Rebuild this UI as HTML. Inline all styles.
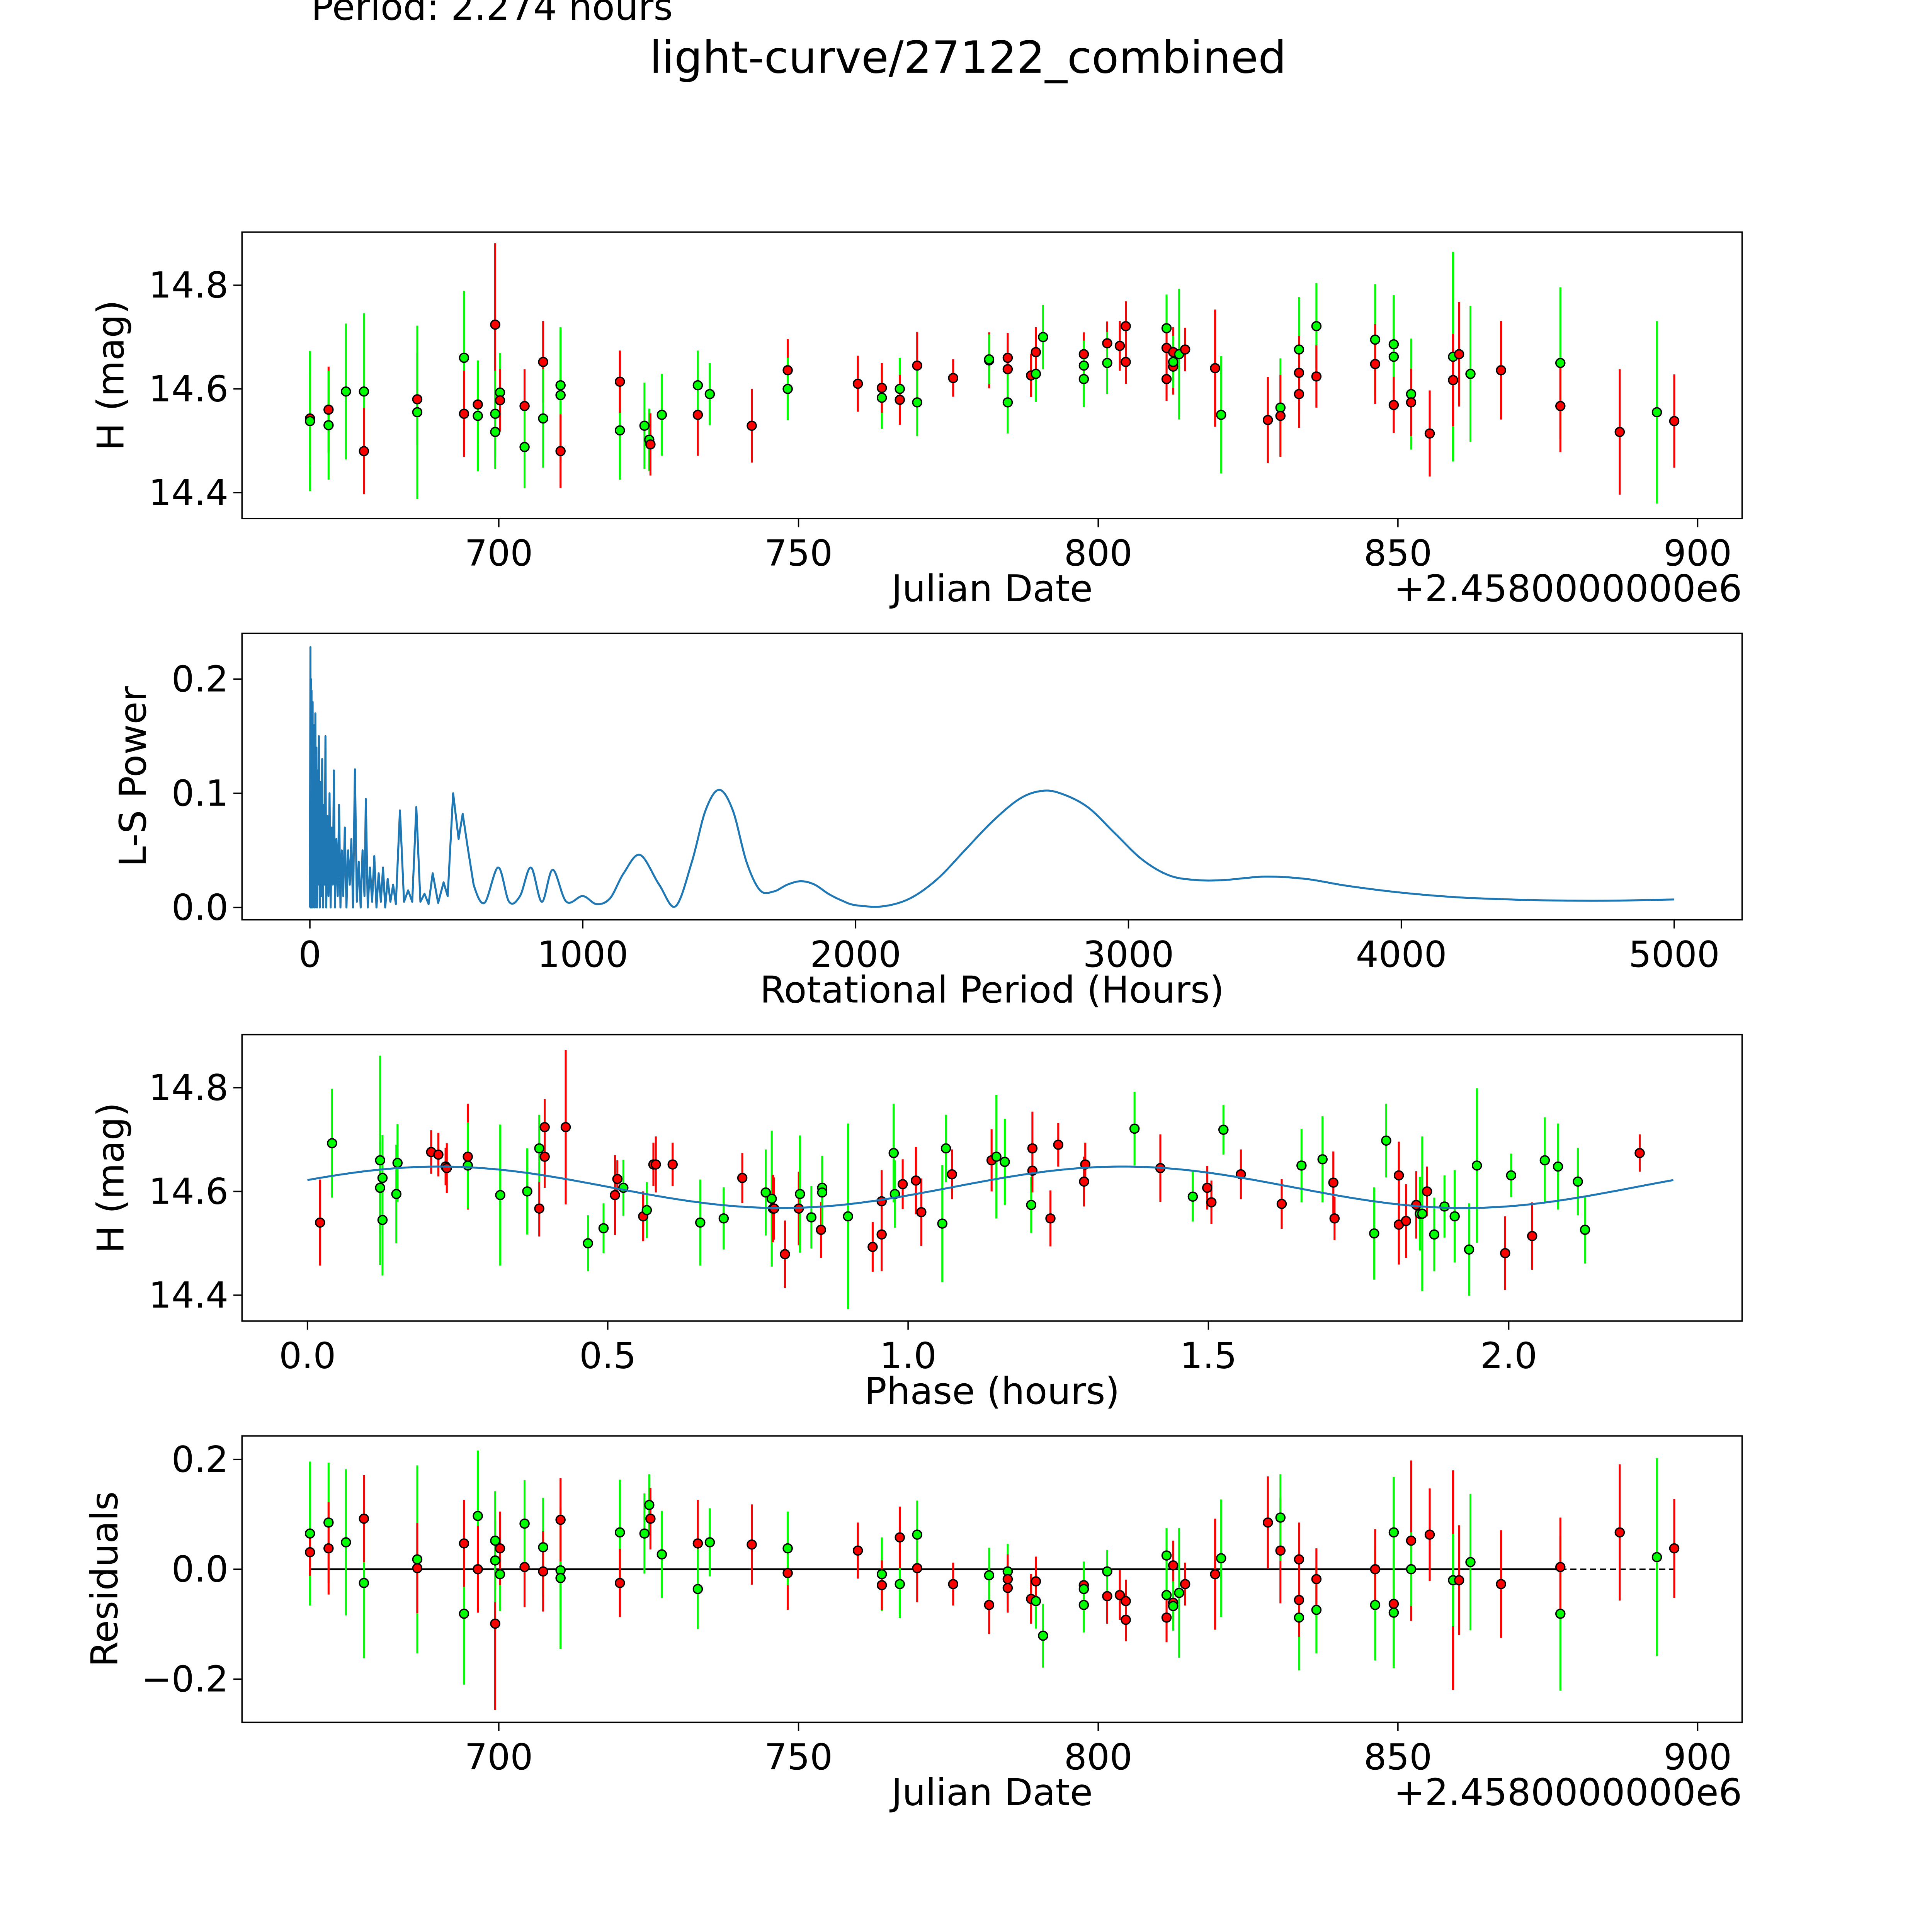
<!DOCTYPE html>
<html><head><meta charset="utf-8"><title>light-curve/27122_combined</title>
<style>html,body{margin:0;padding:0;background:#fff;overflow:hidden;width:5400px;height:5400px}svg{display:block}text{font-family:"DejaVu Sans","Liberation Sans",sans-serif;fill:#000}</style>
</head><body>
<svg id="chart" xmlns="http://www.w3.org/2000/svg" width="5400" height="5400" viewBox="0 0 1690 1690">
<rect x="0" y="0" width="1690" height="1690" fill="#fff"/>
<text x="252" y="16" font-size="30">Period: 2.274 hours</text>
<text x="784" y="59" font-size="36" text-anchor="middle">light-curve/27122_combined</text>
</svg>
<script>
// ---- Panel 1: light curve (Julian Date offset from 2458000) ----
const lcDate=[668.5,668.5,671.6,671.6,674.5,677.5,677.5,686.4,686.4,694.2,694.2,696.5,696.5,699.4,699.4,699.4,700.2,700.2,704.3,704.3,707.4,707.4,710.3,710.3,710.3,720.2,720.2,724.3,725.1,725.3,727.2,733.2,733.2,735.2,742.2,748.2,748.2,759.9,763.9,763.9,766.9,766.9,769.8,769.8,775.8,781.8,781.8,784.9,784.9,784.9,788.8,789.6,789.6,790.8,797.6,797.6,797.6,801.5,801.5,803.6,804.6,804.6,811.4,811.4,811.4,812.5,812.5,812.5,813.5,814.5,819.5,820.5,828.3,830.4,830.4,833.5,833.5,833.5,836.4,836.4,846.2,846.2,849.3,849.3,849.3,852.2,852.2,855.3,859.2,859.2,860.2,862.1,867.2,877.1,877.1,887.0,893.2,896.1];
const lcMag=[14.543,14.538,14.560,14.530,14.595,14.595,14.480,14.580,14.555,14.660,14.552,14.570,14.548,14.724,14.552,14.517,14.593,14.578,14.567,14.488,14.652,14.543,14.607,14.588,14.480,14.520,14.614,14.529,14.502,14.493,14.550,14.550,14.607,14.590,14.529,14.636,14.600,14.610,14.583,14.602,14.600,14.579,14.645,14.574,14.621,14.655,14.657,14.660,14.638,14.574,14.626,14.629,14.671,14.700,14.667,14.645,14.619,14.688,14.650,14.683,14.721,14.652,14.717,14.679,14.619,14.671,14.643,14.652,14.667,14.676,14.640,14.550,14.540,14.564,14.548,14.676,14.631,14.590,14.721,14.624,14.695,14.648,14.686,14.662,14.569,14.590,14.574,14.514,14.662,14.617,14.667,14.629,14.636,14.650,14.567,14.517,14.555,14.538];
const lcErr=[0.089,0.135,0.083,0.105,0.131,0.151,0.083,0.089,0.167,0.129,0.083,0.076,0.107,0.157,0.083,0.071,0.076,0.060,0.071,0.079,0.079,0.095,0.107,0.131,0.071,0.095,0.060,0.083,0.060,0.060,0.079,0.079,0.067,0.060,0.071,0.060,0.060,0.054,0.060,0.048,0.060,0.048,0.065,0.065,0.036,0.054,0.048,0.048,0.048,0.060,0.042,0.054,0.048,0.062,0.042,0.048,0.054,0.042,0.060,0.048,0.048,0.042,0.065,0.042,0.042,0.048,0.054,0.050,0.126,0.042,0.113,0.113,0.083,0.095,0.079,0.101,0.071,0.065,0.083,0.060,0.107,0.077,0.095,0.107,0.054,0.107,0.065,0.083,0.202,0.089,0.101,0.131,0.095,0.146,0.089,0.121,0.176,0.090];
const lcBand=["r","g","r","g","g","g","r","r","g","g","r","r","g","r","g","g","g","r","r","g","r","g","g","g","r","g","r","g","g","r","g","r","g","g","r","r","g","r","g","r","g","r","r","g","r","r","g","r","r","g","r","g","r","g","r","g","g","r","g","r","r","r","g","r","r","r","r","g","g","r","r","g","r","g","r","g","r","r","g","r","g","r","g","g","r","g","r","r","g","r","r","g","r","g","r","r","g","r"];
const lcXTicks=[700,750,800,850,900];
const lcYTicks=[14.4,14.6,14.8];

// ---- Panel 2: Lomb-Scargle periodogram ----
const lsPeriod=[0,2,3,4,5,6,7,8,9,10,11,13,14,16,18,20,22,24,26,28,30,33,36,39,42,45,48,51,54,57,60,64,68,72,76,80,84,88,92,97,102,107,112,117,122,128,134,140,146,152,158,165,172,179,186,193,200,205,212,220,228,236,244,252,260,268,276,285,295,305,315,330,345,360,375,390,405,420,435,450,470,490,505,525,545,560,580,600,640,690,730,770,810,850,890,940,1000,1050,1100,1150,1210,1280,1340,1400,1450,1500,1550,1600,1650,1700,1750,1800,1850,1900,1950,2000,2100,2200,2300,2400,2500,2600,2680,2750,2850,2950,3050,3150,3250,3350,3500,3650,3800,4000,4200,4400,4600,4800,5000];
const lsPower=[0,0.228,0,0.2,0.02,0.19,0,0.17,0.03,0.18,0,0.15,0.02,0.16,0,0.17,0.01,0.14,0,0.12,0.02,0.15,0,0.11,0.01,0.13,0,0.09,0.02,0.15,0,0.08,0.01,0.1,0,0.07,0.02,0.12,0,0.06,0.01,0.09,0,0.05,0.01,0.07,0,0.05,0.02,0.06,0,0.121,0.005,0.04,0,0.05,0.01,0.095,0,0.035,0.005,0.045,0,0.03,0.005,0.035,0,0.025,0.005,0.02,0.003,0.085,0.005,0.015,0.005,0.088,0.005,0.012,0.003,0.03,0.004,0.022,0.01,0.1,0.06,0.082,0.05,0.02,0.004,0.035,0.005,0.01,0.035,0.005,0.033,0.005,0.01,0.003,0.008,0.03,0.046,0.02,0.001,0.04,0.085,0.103,0.085,0.04,0.015,0.014,0.02,0.023,0.02,0.012,0.006,0.002,0.001,0.008,0.025,0.05,0.075,0.095,0.102,0.1,0.088,0.065,0.042,0.028,0.024,0.024,0.027,0.025,0.019,0.013,0.009,0.007,0.006,0.006,0.007];
const lsXTicks=[0,1000,2000,3000,4000,5000];
const lsYTicks=[0.0,0.1,0.2];

// ---- Panel 3: phase-folded light curve ----
const phPhase=[0.021,0.041,0.121,0.121,0.125,0.125,0.148,0.150,0.206,0.218,0.230,0.232,0.267,0.267,0.321,0.366,0.386,0.386,0.395,0.395,0.430,0.467,0.493,0.512,0.516,0.526,0.559,0.565,0.576,0.580,0.608,0.654,0.693,0.724,0.763,0.773,0.775,0.777,0.795,0.818,0.820,0.839,0.855,0.857,0.857,0.900,0.941,0.956,0.956,0.978,0.976,0.991,1.013,1.022,1.057,1.063,1.073,1.139,1.147,1.161,1.205,1.207,1.207,1.237,1.250,1.293,1.295,1.377,1.420,1.474,1.498,1.505,1.525,1.554,1.622,1.655,1.690,1.708,1.710,1.776,1.796,1.817,1.817,1.829,1.846,1.852,1.856,1.864,1.876,1.893,1.910,1.934,1.947,1.994,2.004,2.039,2.060,2.082,2.115,2.127,2.218];
const phMag=[14.540,14.693,14.660,14.607,14.626,14.545,14.595,14.655,14.676,14.671,14.648,14.645,14.667,14.650,14.593,14.600,14.567,14.683,14.724,14.667,14.724,14.500,14.529,14.593,14.624,14.607,14.552,14.564,14.652,14.652,14.652,14.540,14.548,14.626,14.598,14.586,14.567,14.567,14.479,14.567,14.595,14.550,14.526,14.607,14.598,14.552,14.493,14.517,14.581,14.595,14.674,14.614,14.621,14.560,14.538,14.683,14.633,14.660,14.667,14.657,14.574,14.683,14.640,14.548,14.690,14.619,14.652,14.721,14.645,14.590,14.607,14.579,14.719,14.633,14.576,14.650,14.662,14.617,14.548,14.519,14.698,14.631,14.536,14.543,14.574,14.557,14.557,14.600,14.517,14.571,14.552,14.488,14.650,14.481,14.631,14.514,14.660,14.648,14.619,14.526,14.674];
const phErr=[0.083,0.105,0.202,0.089,0.083,0.107,0.095,0.075,0.042,0.042,0.036,0.048,0.102,0.083,0.136,0.083,0.054,0.065,0.054,0.060,0.149,0.054,0.048,0.077,0.036,0.054,0.048,0.054,0.042,0.054,0.042,0.083,0.060,0.048,0.083,0.131,0.065,0.060,0.065,0.071,0.113,0.060,0.054,0.054,0.071,0.179,0.048,0.071,0.060,0.065,0.095,0.048,0.065,0.065,0.113,0.065,0.048,0.060,0.119,0.083,0.054,0.071,0.042,0.054,0.042,0.048,0.042,0.071,0.065,0.048,0.042,0.042,0.048,0.048,0.048,0.071,0.083,0.060,0.042,0.089,0.071,0.065,0.077,0.071,0.065,0.071,0.149,0.048,0.071,0.060,0.089,0.089,0.149,0.071,0.042,0.065,0.083,0.083,0.065,0.065,0.036];
const phBand=["r","g","g","g","g","g","g","g","r","r","r","r","r","g","g","g","r","g","r","r","r","g","g","r","r","g","r","g","r","r","r","g","g","r","g","g","r","r","r","r","g","g","r","g","g","g","r","r","r","g","g","r","r","r","g","g","r","r","g","g","g","r","r","r","r","r","r","g","r","g","r","r","g","r","r","g","g","r","r","g","g","r","r","r","r","g","g","r","g","g","g","g","g","r","g","r","g","g","g","g","r"];
const fitParams=[14.608,0.040,1.137,0.22]; // mean, amplitude, half-period, peak phase
const fitRange=[0,2.274];
const phXTicks=[0.0,0.5,1.0,1.5,2.0];
const phYTicks=[14.4,14.6,14.8];

// ---- Panel 4: residuals ----
const rsDate=[668.5,668.5,671.6,671.6,674.5,677.5,677.5,686.4,686.4,694.2,694.2,696.5,696.5,699.4,699.4,699.4,700.2,700.2,704.3,704.3,707.4,707.4,710.3,710.3,710.3,720.2,720.2,724.3,725.1,725.3,727.2,733.2,733.2,735.2,742.2,748.2,748.2,759.9,763.9,763.9,766.9,766.9,769.8,769.8,775.8,781.8,781.8,784.9,784.9,784.9,788.8,789.6,789.6,790.8,797.6,797.6,797.6,801.5,801.5,803.6,804.6,804.6,811.4,811.4,811.4,812.5,812.5,812.5,813.5,814.5,819.5,820.5,828.3,830.4,830.4,833.5,833.5,833.5,836.4,836.4,846.2,846.2,849.3,849.3,849.3,852.2,852.2,855.3,859.2,859.2,860.2,862.1,867.2,877.1,877.1,887.0,893.2,896.1];
const rsVal=[0.065,0.031,0.085,0.038,0.049,-0.025,0.092,0.018,0.002,-0.081,0.047,0.097,0.000,-0.099,0.052,0.016,-0.009,0.038,0.004,0.083,0.040,-0.004,-0.002,-0.016,0.090,0.067,-0.025,0.065,0.117,0.092,0.027,0.047,-0.036,0.049,0.045,-0.007,0.038,0.034,-0.009,-0.029,-0.027,0.058,0.002,0.063,-0.027,-0.065,-0.011,-0.004,-0.018,-0.034,-0.054,-0.058,-0.022,-0.121,-0.029,-0.036,-0.065,-0.049,-0.004,-0.047,-0.058,-0.092,0.025,-0.047,-0.088,0.007,-0.061,-0.067,-0.043,-0.027,-0.009,0.020,0.085,0.034,0.094,-0.088,0.018,-0.056,-0.074,-0.018,-0.065,0.000,-0.063,-0.079,0.067,0.052,0.000,0.063,-0.020,-0.020,-0.020,0.013,-0.027,-0.081,0.004,0.067,0.022,0.038];
const rsErr=[0.131,0.043,0.109,0.084,0.133,0.137,0.079,0.171,0.082,0.129,0.079,0.119,0.079,0.157,0.090,0.076,0.067,0.067,0.073,0.079,0.090,0.073,0.073,0.129,0.076,0.096,0.062,0.073,0.056,0.056,0.079,0.079,0.073,0.062,0.073,0.067,0.067,0.051,0.067,0.045,0.062,0.056,0.062,0.062,0.039,0.053,0.050,0.050,0.045,0.045,0.045,0.050,0.045,0.058,0.039,0.050,0.050,0.050,0.039,0.045,0.039,0.039,0.050,0.056,0.045,0.045,0.045,0.045,0.118,0.039,0.101,0.107,0.084,0.096,0.079,0.096,0.067,0.067,0.079,0.056,0.101,0.073,0.062,0.101,0.101,0.146,0.067,0.084,0.200,0.084,0.100,0.124,0.098,0.140,0.090,0.124,0.180,0.090];
const rsBand=["g","r","g","r","g","g","r","g","r","g","r","g","r","r","g","g","g","r","r","g","g","r","g","g","r","g","r","g","g","r","g","r","g","g","r","r","g","r","g","r","g","r","r","g","r","r","g","g","r","r","r","g","r","g","r","g","g","r","g","r","r","r","g","g","r","r","r","g","g","r","r","g","r","r","g","g","r","r","g","r","g","r","r","g","g","r","g","r","r","g","r","g","r","g","r","r","g","r"];
const rsXTicks=[700,750,800,850,900];
const rsYTicks=[-0.2,0.0,0.2];
const rsZeroRange=[668.5,877.1,896.1];

// ---- Layout & axis functions ----
const NS="http://www.w3.org/2000/svg";
const svg=document.getElementById('chart');
const P1={l:196,r:1411,t:188,b:420};
const P2={l:196,r:1411,t:513,b:745};
const P3={l:196,r:1411,t:838,b:1070};
const P4={l:196,r:1411,t:1163,b:1395};
const xDate=d=>404+(d-700)*4.855;
const yMag1=m=>231+(14.8-m)*420;
const xPer=p=>251+p*0.221;
const yPow=v=>735-v*925;
const xPh=p=>249+p*486.5;
const yMag3=m=>881+(14.8-m)*420;
const yRes=r=>1271-r*445;
const COL={r:"#ff0000",g:"#00ff00"};

function mk(tag,attrs,parent){const e=document.createElementNS(NS,tag);for(const k in attrs)e.setAttribute(k,attrs[k]);(parent||svg).appendChild(e);return e;}
function fmt(v,dec){let s=v.toFixed(dec);if(v<0)s="\u2212"+s.slice(1);return s;}

function axes(P,name,xt,xf,xdec,yt,yf,ydec,xlabel,ylabel,ylx,offset){
  const g=mk('g',{});
  
  
  xt.forEach(v=>{const x=xf(v);
    const t=mk('line',{x1:x,x2:x,y1:P.b,y2:P.b+7,stroke:'#000','stroke-width':1.1},g);
    
    
    const l=mk('text',{x:x,y:P.b+38,'font-size':29,'text-anchor':'middle'},g);l.textContent=fmt(v,xdec);
    
    
  });
  yt.forEach(v=>{const y=yf(v);
    const t=mk('line',{x1:P.l-7,x2:P.l,y1:y,y2:y,stroke:'#000','stroke-width':1.1},g);
    
    
    const l=mk('text',{x:P.l-11,y:y+10,'font-size':29,'text-anchor':'end'},g);l.textContent=fmt(v,ydec);
    
    
  });
  const xl=mk('text',{x:(P.l+P.r)/2,y:P.b+67,'font-size':30,'text-anchor':'middle'},g);xl.textContent=xlabel;
  
  
  const cy=(P.t+P.b)/2;
  const yl=mk('text',{x:ylx,y:cy,'font-size':30,'text-anchor':'middle',transform:`rotate(-90 ${ylx} ${cy})`},g);yl.textContent=ylabel;
  
  
  if(offset){const o=mk('text',{x:P.r,y:P.b+67,'font-size':30,'text-anchor':'end'},g);o.textContent=offset;
    
    }
}
function frame(P,name){
  const f=mk('rect',{x:P.l,y:P.t,width:P.r-P.l,height:P.b-P.t,fill:'none',stroke:'#000','stroke-width':1.1});
  
  
}
function points(name,xs,ys,es,bands,xf,yf,ysc){
  const g=mk('g',{});
  
  
  for(let i=0;i<xs.length;i++){
    const x=xf(xs[i]),y=yf(ys[i]),h=es[i]*ysc;
    const e=mk('line',{x1:x,x2:x,y1:y-h,y2:y+h,stroke:COL[bands[i]],'stroke-width':1.6},g);
    
    
  }
  for(let i=0;i<xs.length;i++){
    const c=mk('circle',{cx:xf(xs[i]),cy:yf(ys[i]),r:3.6,fill:COL[bands[i]],stroke:'#000','stroke-width':1.1},g);
    
    
  }
}

// Panel 1
points('light-curve',lcDate,lcMag,lcErr,lcBand,xDate,yMag1,420);
frame(P1,'light-curve');
axes(P1,'light-curve',lcXTicks,xDate,0,lcYTicks,yMag1,1,'Julian Date','H (mag)',100,'+2.4580000000e6');

// Panel 2: straight segments in the spiky region, Catmull-Rom smoothing beyond 600 h
const lsXY=lsPeriod.map((p,i)=>[xPer(p),yPow(lsPower[i])]);
let lsD='M'+lsXY[0][0].toFixed(2)+','+lsXY[0][1].toFixed(2);
for(let i=1;i<lsXY.length;i++){
  const p1=lsXY[i-1],p2=lsXY[i];
  if(lsPeriod[i-1]>=600&&i<lsXY.length-1){
    const p0=lsXY[i-2],p3=lsXY[i+1];
    const c1=[p1[0]+(p2[0]-p0[0])/6,p1[1]+(p2[1]-p0[1])/6];
    const c2=[p2[0]-(p3[0]-p1[0])/6,p2[1]-(p3[1]-p1[1])/6];
    lsD+=` C${c1[0].toFixed(2)},${c1[1].toFixed(2)} ${c2[0].toFixed(2)},${c2[1].toFixed(2)} ${p2[0].toFixed(2)},${p2[1].toFixed(2)}`;
  } else lsD+=` L${p2[0].toFixed(2)},${p2[1].toFixed(2)}`;
}
const lsLine=mk('path',{d:lsD,fill:'none',stroke:'#1f77b4','stroke-width':1.6,'stroke-linejoin':'round'});


frame(P2,'periodogram');
axes(P2,'periodogram',lsXTicks,xPer,0,lsYTicks,yPow,1,'Rotational Period (Hours)','L-S Power',118,null);

// Panel 3
const fitPts=[];
for(let k=0;k<=200;k++){const p=fitRange[0]+(fitRange[1]-fitRange[0])*k/200;
  const m=fitParams[0]+fitParams[1]*Math.cos(2*Math.PI*(p-fitParams[3])/fitParams[2]);
  fitPts.push(xPh(p).toFixed(2)+','+yMag3(m).toFixed(2));}
points('phase',phPhase,phMag,phErr,phBand,xPh,yMag3,420);
const fit=mk('polyline',{points:fitPts.join(' '),fill:'none',stroke:'#1f77b4','stroke-width':1.6});


frame(P3,'phase');
axes(P3,'phase',phXTicks,xPh,1,phYTicks,yMag3,1,'Phase (hours)','H (mag)',100,null);

// Panel 4
const z1=mk('line',{x1:xDate(rsZeroRange[0]),x2:xDate(rsZeroRange[1]),y1:yRes(0),y2:yRes(0),stroke:'#000','stroke-width':1.4});


const z2=mk('line',{x1:xDate(rsZeroRange[1]),x2:xDate(rsZeroRange[2]),y1:yRes(0),y2:yRes(0),stroke:'#000','stroke-width':1.1,'stroke-dasharray':'5 3'});


points('residual',rsDate,rsVal,rsErr,rsBand,xDate,yRes,445);
frame(P4,'residual');
axes(P4,'residual',rsXTicks,xDate,0,rsYTicks,yRes,1,'Julian Date','Residuals',95,'+2.4580000000e6');
</script>
</body></html>
